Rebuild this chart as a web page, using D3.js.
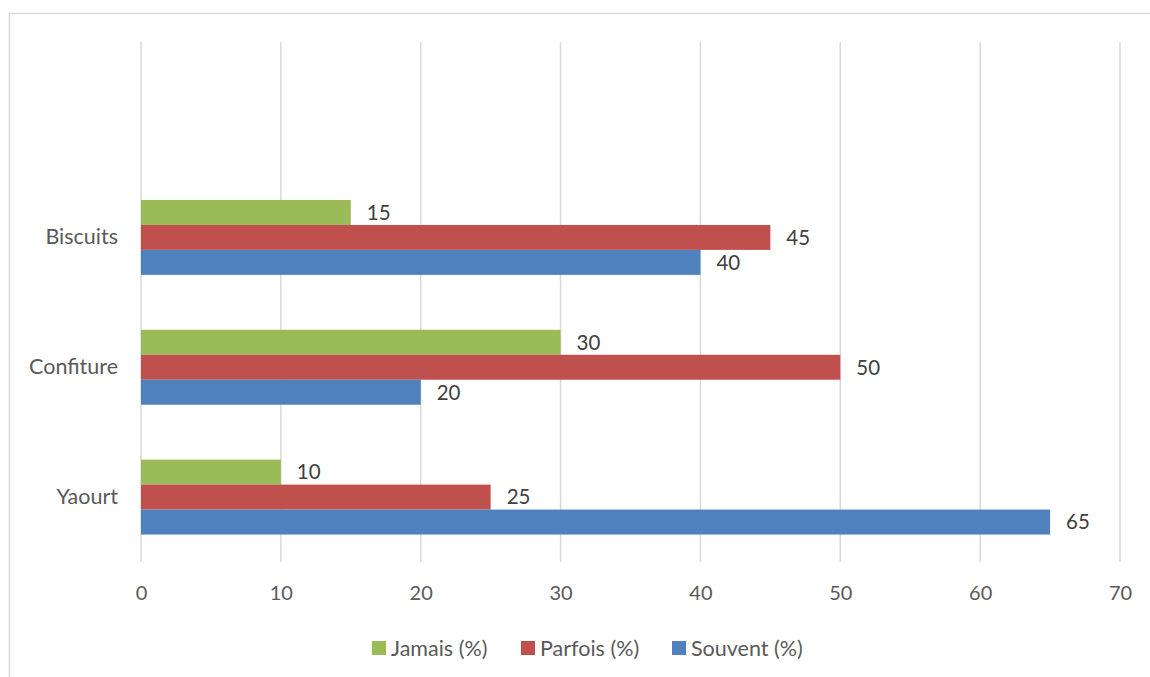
<!DOCTYPE html>
<html>
<head>
<meta charset="utf-8">
<script src="https://cdn.jsdelivr.net/npm/d3@7"></script>
<style>
  body { margin: 0; background: #fff; }
  text { font-family: Lato, "Open Sans", sans-serif; fill: #595959; }
</style>
</head>
<body>
<svg id="chart" width="1150" height="677"></svg>
<script>
// categories from top to bottom in the picture
const categories = ["Biscuits", "Confiture", "Yaourt"];
const seriesNames = ["Jamais (%)", "Parfois (%)", "Souvent (%)"];
const jamais = [15, 30, 10];
const parfois = [45, 50, 25];
const souvent = [40, 20, 65];
const xTicks = [0, 10, 20, 30, 40, 50, 60, 70];
const colors = ["#9BBB59", "#C0504D", "#4F81BD"];

const values = [jamais, parfois, souvent];

const svg = d3.select("#chart");
const w = 1150, h = 677;

// outer chart border
svg.append("rect")
    .attr("x", 9.5).attr("y", 13.5)
    .attr("width", w + 20).attr("height", h + 20)
    .attr("fill", "none")
    .attr("stroke", "#D9D9D9")
    .attr("stroke-width", 1.5);

const plotTop = 42, plotBottom = 562;

const x = d3.scaleLinear().domain([0, 70]).range([141, 1120]);

// one empty slot on top, like the original
const y = d3.scaleBand()
    .domain(categories)
    .range([172.5, plotBottom])
    .paddingInner(0.4231)
    .paddingOuter(0.2115);

const inner = d3.scaleBand()
    .domain(seriesNames)
    .range([0, y.bandwidth()]);

// gridlines
svg.append("g")
    .selectAll("line")
    .data(xTicks)
    .enter()
    .append("line")
    .attr("x1", d => x(d)).attr("x2", d => x(d))
    .attr("y1", plotTop).attr("y2", plotBottom)
    .attr("stroke", "#D9D9D9")
    .attr("stroke-width", 1.5);

// x axis labels
const xAxis = d3.axisBottom(x).tickValues(xTicks).tickSize(0).tickPadding(24);
svg.append("g")
    .attr("transform", `translate(0,${plotBottom})`)
    .call(xAxis)
    .call(g => g.select(".domain").remove())
    .selectAll("text")
    .style("font-size", "20px")
    .attr("fill", "#595959")
    .style("font-family", "Lato, sans-serif");

// category labels
const yAxis = d3.axisLeft(y).tickSize(0).tickPadding(23);
svg.append("g")
    .attr("transform", "translate(141,0)")
    .call(yAxis)
    .call(g => g.select(".domain").remove())
    .selectAll("text")
    .style("font-size", "21.5px")
    .attr("fill", "#595959")
    .style("font-family", "Lato, sans-serif");

// bars
seriesNames.forEach((s, si) => {
    const g = svg.append("g").attr("class", "series");
    g.selectAll("rect")
        .data(categories)
        .enter()
        .append("rect")
        .attr("x", x(0))
        .attr("y", c => y(c) + inner(s))
        .attr("width", (c, i) => x(values[si][i]) - x(0))
        .attr("height", inner.bandwidth())
        .attr("fill", colors[si]);

    g.selectAll("text")
        .data(categories)
        .enter()
        .append("text")
        .attr("x", (c, i) => x(values[si][i]) + 16)
        .attr("y", c => y(c) + inner(s) + inner.bandwidth() / 2)
        .attr("dy", "0.36em")
        .style("font-size", "20.5px")
        .style("fill", "#404040")
        .text((c, i) => values[si][i]);
});

// legend
const legendX = [372, 521, 672];
const legend = svg.append("g");
seriesNames.forEach((s, i) => {
    legend.append("rect")
        .attr("x", legendX[i]).attr("y", 641)
        .attr("width", 14).attr("height", 14)
        .attr("fill", colors[i]);
    legend.append("text")
        .attr("x", legendX[i] + 19).attr("y", 648)
        .attr("dy", "0.36em")
        .style("font-size", "21.5px")
        .text(s);
});
</script>
</body>
</html>
